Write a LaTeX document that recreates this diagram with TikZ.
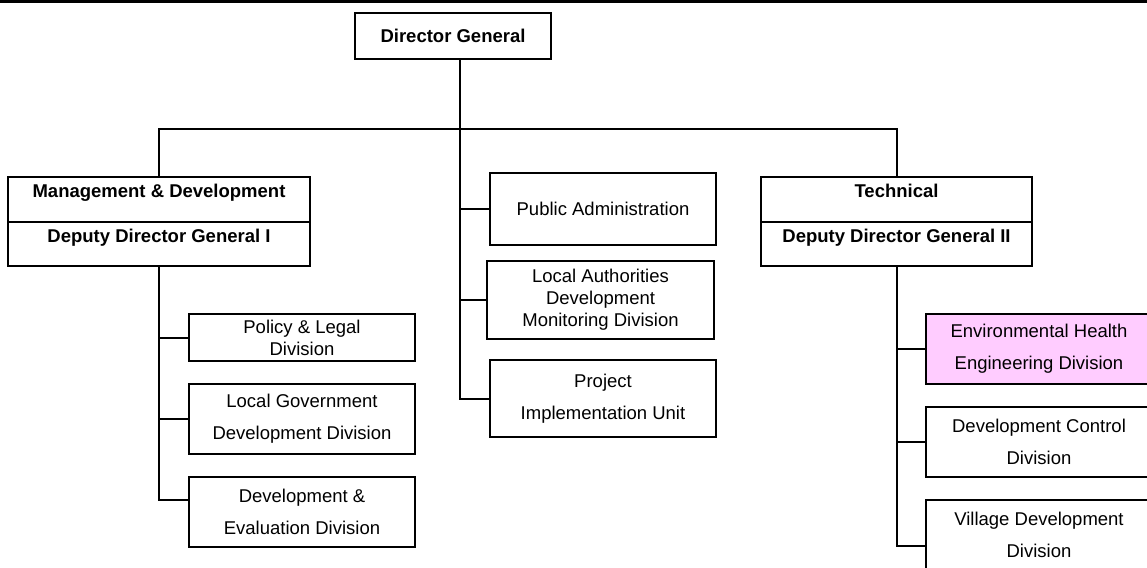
\documentclass[tikz,border=0pt]{standalone}
\usepackage{fontspec}
\setmainfont{Liberation Sans}
\definecolor{pinkfill}{RGB}{255,204,255}
\begin{document}
\begin{tikzpicture}[x=1pt,y=-1pt,
  every node/.style={inner sep=0pt, outer sep=0pt},
  box/.style={draw=black, line width=2pt, align=center, fill=white},
  tight/.style={box, font=\fontsize{18.5}{22}\selectfont},
  wide/.style={box, font=\fontsize{18.5}{32}\selectfont},
  head/.style={box, font=\fontsize{18.5}{22}\selectfont\bfseries, text height=10pt, text depth=14pt},
  link/.style={draw=black, line width=2pt}]
\clip (0,0) rectangle (1147,567);
\fill[white] (0,0) rectangle (1147,567);
\coordinate (rl) at (0,1.5);
\coordinate (rr) at (1147,1.5);
\draw[line width=3.5pt] (rl) -- (rr);

% Director General
\node[box, font=\fontsize{18.5}{22}\selectfont\bfseries, minimum width=196, minimum height=46] (DG) at (453,36) {Director General};

% Deputy boxes
\node[head, minimum width=302, minimum height=45] (mA) at (159,199.5) {Management \& Development};
\node[head, minimum width=302, minimum height=44] (mB) at (159,244) {Deputy Director General I};
\node[head, minimum width=271, minimum height=45] (tA) at (896.5,199.5) {Technical};
\node[head, minimum width=271, minimum height=44] (tB) at (896.5,244) {Deputy Director General II};

% middle column
\node[tight, minimum width=226, minimum height=72] (PA) at (603,208.5) {Public Administration};
\node[tight, minimum width=227, minimum height=78] (LA) at (600.5,300) {Local Authorities\\Development\\Monitoring Division};
\node[wide, minimum width=226, minimum height=77] (PJ) at (603,398.5) {Project\\Implementation Unit};

% left column
\node[tight, minimum width=226, minimum height=47] (PL) at (302,337.5) {Policy \& Legal\\Division};
\node[wide, minimum width=226, minimum height=70] (LG) at (302,419) {Local Government\\Development Division};
\node[wide, minimum width=226, minimum height=70] (DE) at (302,512) {Development \&\\Evaluation Division};

% right column
\node[wide, fill=pinkfill, minimum width=226, minimum height=70] (EH) at (1039,349) {Environmental Health\\Engineering Division};
\node[wide, minimum width=226, minimum height=70] (DC) at (1039,442) {Development Control\\Division};
\node[wide, minimum width=226, minimum height=70] (VD) at (1039,535) {Village Development\\Division};

% connectors
\coordinate (bus) at (460,129);
\draw[link] (DG.south -| bus) -- (bus);
\draw[link] (mA.north) |- (bus) -| (tA.north);
\draw[link] (bus) -- (bus |- PJ.west) -- (PJ.west);
\draw[link] (bus |- PA.west) -- (PA.west);
\draw[link] (bus |- LA.west) -- (LA.west);

\draw[link] (mB.south) |- ([yshift=12pt]DE.west);
\draw[link] (mB.south |- PL.west) -- (PL.west);
\draw[link] (mB.south |- LG.west) -- (LG.west);

\draw[link] (tB.south) |- ([yshift=-11pt]VD.west);
\draw[link] (tB.south |- EH.west) -- (EH.west);
\draw[link] (tB.south |- DC.west) -- (DC.west);
\end{tikzpicture}
\end{document}
